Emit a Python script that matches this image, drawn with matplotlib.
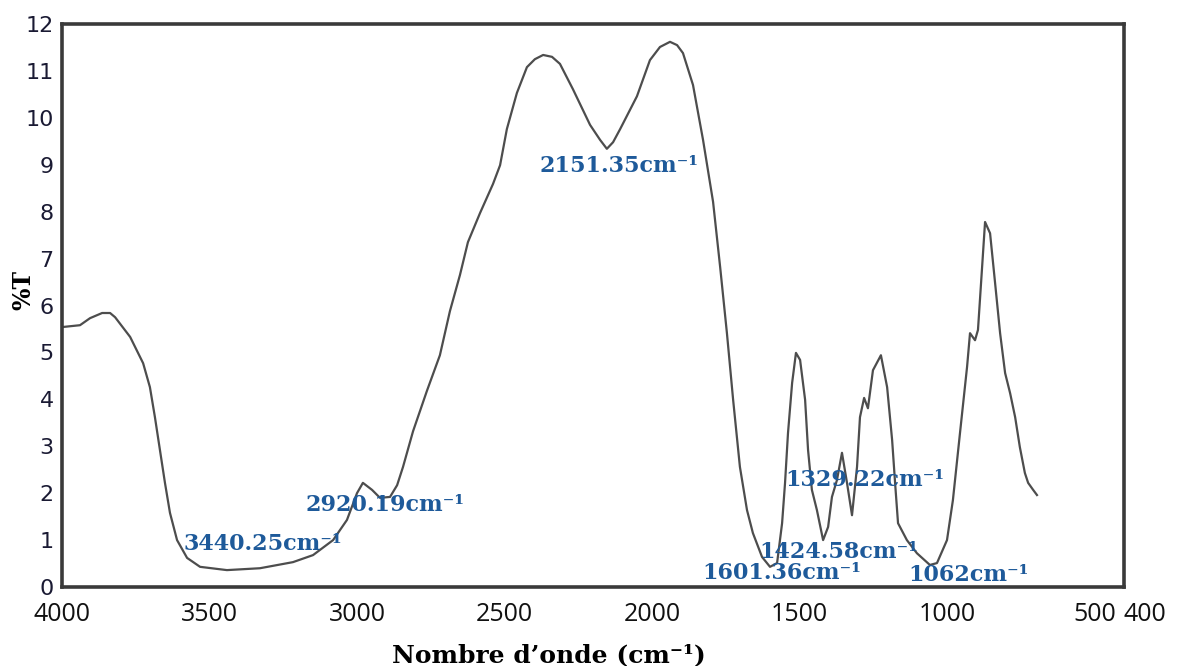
import matplotlib
matplotlib.use("Agg")
import matplotlib.pyplot as plt

# spectre IR (nombre d'onde en cm-1, transmittance en %)
wavenumber = [4000, 3939, 3905, 3864, 3837, 3820, 3769, 3725, 3702, 3685, 3668, 3651,
              3634, 3610, 3576, 3532, 3441, 3329, 3217, 3149, 3081, 3034,
              3000, 2980, 2949, 2922, 2888, 2864, 2844, 2810, 2763, 2719,
              2685, 2651, 2624, 2583, 2539, 2515, 2492, 2458, 2424, 2397, 2369, 2339,
              2312, 2268, 2210, 2176, 2153, 2132, 2108, 2051, 2007, 1973, 1939, 1915, 1895, 1861,
              1827, 1793, 1769, 1746, 1725, 1702, 1678, 1658, 1627, 1600,
              1576, 1559, 1549, 1539, 1525, 1512, 1498, 1481, 1471, 1458,
              1441, 1420, 1403, 1390, 1373, 1356, 1339, 1322, 1305, 1295,
              1281, 1268, 1251, 1224, 1203, 1186, 1176, 1166, 1136, 1102,
              1058, 1034, 1000, 980, 956, 932, 922, 905, 895, 881,
              871, 854, 837, 820, 803, 786, 769, 753, 736, 725,
              708, 695]
transmittance = [5.54, 5.58, 5.73, 5.84, 5.84, 5.75, 5.33, 4.77, 4.26, 3.62, 2.92, 2.22,
                 1.58, 1.00, 0.62, 0.43, 0.36, 0.40, 0.53, 0.68, 1.00, 1.43,
                 2.00, 2.22, 2.07, 1.90, 1.92, 2.17, 2.56, 3.32, 4.18, 4.94,
                 5.88, 6.65, 7.35, 7.97, 8.59, 8.99, 9.76, 10.53, 11.08, 11.25, 11.34, 11.30,
                 11.15, 10.61, 9.85, 9.53, 9.34, 9.48, 9.76, 10.46, 11.23, 11.51, 11.62, 11.55, 11.38, 10.70,
                 9.53, 8.21, 6.82, 5.41, 3.99, 2.56, 1.64, 1.15, 0.64, 0.43,
                 0.51, 1.36, 2.22, 3.28, 4.35, 4.99, 4.84, 3.99, 2.92, 2.07,
                 1.64, 1.00, 1.28, 1.92, 2.28, 2.86, 2.22, 1.53, 2.56, 3.62,
                 4.03, 3.81, 4.62, 4.94, 4.26, 3.13, 2.22, 1.36, 1.00, 0.72,
                 0.47, 0.51, 1.00, 1.85, 3.28, 4.69, 5.41, 5.26, 5.48, 6.82,
                 7.78, 7.54, 6.48, 5.41, 4.56, 4.13, 3.62, 2.98, 2.43, 2.22,
                 2.07, 1.96]

xticks = [4000, 3500, 3000, 2500, 2000, 1500, 1000, 500, 400]
yticks = list(range(0, 13))

# étiquettes des bandes : texte, position (fraction des axes)
band_labels = ["2151.35cm⁻¹", "2920.19cm⁻¹", "3440.25cm⁻¹", "1329.22cm⁻¹",
               "1424.58cm⁻¹", "1601.36cm⁻¹", "1062cm⁻¹"]
band_pos = [(0.450, 0.748), (0.229, 0.146), (0.114, 0.076), (0.681, 0.190),
            (0.657, 0.062), (0.603, 0.025), (0.797, 0.021)]

fig = plt.figure(figsize=(11.8, 6.66), dpi=100)
ax = fig.add_axes([62/1180, 79/666, 1062/1180, 563/666])

ax.plot(wavenumber, transmittance, color="#4d4d4d", lw=1.6)

ax.set_xlim(4000, 400)
ax.set_ylim(0, 12)

ax.set_xticks(xticks)
ax.set_xticklabels([str(t) for t in xticks], family="Open Sans", fontsize=18, color="#111111")
ax.get_xticklabels()[-1].set_ha("left")
ax.set_yticks(yticks)
ax.set_yticklabels([str(t) for t in yticks], family="DejaVu Sans", fontsize=16, color="#1a1a33")
ax.tick_params(axis="x", length=0, pad=11)
ax.tick_params(axis="y", length=0, pad=6)

for s in ax.spines.values():
    s.set_color("#3a3a3a")
    s.set_linewidth(2.6)

for txt, (px, py) in zip(band_labels, band_pos):
    ax.text(px, py, txt, transform=ax.transAxes, ha="left", va="center",
            family="DejaVu Serif", fontweight="bold", fontsize=16, color="#1e5a9a")

ax.set_xlabel("Nombre d’onde (cm⁻¹)", family="DejaVu Serif", fontweight="bold", fontsize=18)
ax.xaxis.set_label_coords(0.458, -0.100)
ax.set_ylabel("%T", family="DejaVu Serif", fontweight="bold", fontsize=17)
ax.yaxis.set_label_coords(-0.025, 0.527)

fig.savefig("out.png", dpi=100)
